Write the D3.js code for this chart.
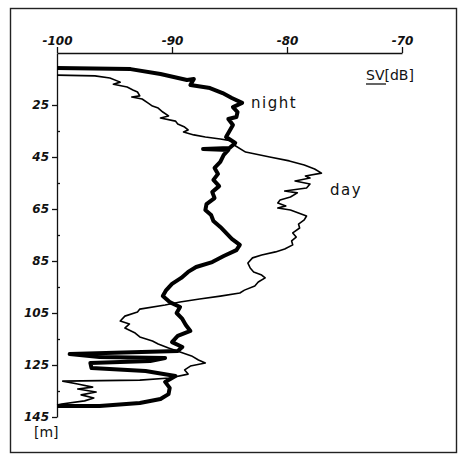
<!DOCTYPE html>
<html>
<head>
<meta charset="utf-8">
<script src="https://cdn.jsdelivr.net/npm/d3@7"></script>
<style>
  body { margin: 0; background: #fff; }
  svg { display: block; }
  .tick text { font-family: "DejaVu Sans", sans-serif; font-size: 12px; font-weight: bold; font-style: italic; fill: #111; }
  .lbl { font-family: "DejaVu Sans", sans-serif; fill: #111; }
</style>
</head>
<body>
<svg id="graph"></svg>
<script>
// SV (dB) over depth (m)
var xTicks = [-100, -90, -80, -70];
var yTicks = [25, 45, 65, 85, 105, 125, 145];
var yMinor = [35, 55, 75, 95, 115, 135];

var nightDepth = [10.8, 11.2, 13.1, 15.4, 15.0, 17.3, 18.5, 20.4, 22.3, 24.2, 25.8, 27.7, 29.6, 30.4, 32.7, 35.0, 37.3, 39.6, 41.5, 41.9, 42.3, 44.2, 46.9, 49.2, 51.5, 53.8, 56.2, 58.5, 60.8, 63.1, 65.4, 67.3, 69.6, 71.9, 74.2, 76.5, 78.8, 80.8, 83.1, 85.4, 87.3, 89.2, 91.5, 93.8, 96.2, 98.5, 100.8, 102.7, 105.0, 107.3, 109.6, 111.9, 113.8, 116.2, 118.1, 119.6, 120.8, 121.9, 122.3, 123.5, 124.2, 126.2, 127.3, 129.2, 131.5, 133.8, 136.2, 138.1, 139.6, 140.8, 140.8];
var nightSV = [-100, -93.6, -91.0, -88.7, -88.1, -88.4, -86.7, -85.6, -84.8, -83.9, -84.7, -84.3, -84.4, -85.1, -84.7, -85.0, -85.3, -84.5, -85.0, -87.3, -85.1, -85.5, -85.8, -86.3, -86.0, -86.4, -85.9, -86.5, -86.3, -87.0, -87.1, -86.6, -86.4, -85.8, -85.3, -84.8, -84.1, -84.4, -85.5, -86.5, -87.9, -88.6, -89.2, -90.0, -90.5, -90.8, -90.2, -89.3, -89.6, -89.1, -88.8, -88.4, -89.5, -90.0, -89.1, -89.5, -98.9, -96.3, -90.6, -91.9, -97.1, -97.0, -92.3, -89.7, -90.6, -90.2, -90.3, -91.0, -92.8, -96.3, -100];

var dayDepth = [13.5, 13.8, 14.6, 16.2, 17.0, 18.1, 19.2, 20.0, 21.5, 21.9, 22.7, 24.2, 25.4, 26.2, 27.7, 29.2, 30.0, 31.2, 32.3, 33.5, 34.6, 35.4, 36.5, 37.3, 38.1, 38.8, 40.4, 43.1, 45.0, 46.5, 48.1, 49.6, 51.2, 52.3, 53.1, 54.2, 55.4, 56.9, 58.1, 58.8, 60.4, 61.5, 62.7, 63.8, 64.6, 65.4, 66.5, 67.7, 69.2, 70.8, 72.3, 74.2, 75.8, 77.3, 78.8, 80.4, 81.5, 82.7, 83.8, 85.8, 87.7, 89.2, 90.4, 91.5, 93.1, 94.6, 96.2, 97.3, 98.5, 99.6, 100.8, 101.9, 103.5, 104.6, 106.2, 108.1, 109.2, 110.8, 112.7, 114.2, 115.8, 116.9, 118.5, 120.0, 121.5, 123.1, 124.2, 125.4, 126.9, 128.5, 130.0, 130.8, 131.2, 132.3, 133.5, 134.2, 135.4, 136.5, 137.7, 138.8, 140.0, 140.4];
var daySV = [-100, -96.7, -95.4, -94.5, -95.1, -93.9, -93.4, -93.0, -92.8, -93.5, -92.6, -92.1, -91.7, -91.2, -90.8, -90.3, -91.0, -89.7, -89.5, -88.9, -88.6, -89.0, -88.1, -87.1, -85.8, -84.8, -84.6, -83.6, -81.5, -79.8, -78.5, -77.6, -77.0, -78.4, -78.0, -79.3, -78.0, -78.3, -80.2, -79.1, -79.7, -80.6, -80.8, -80.1, -80.8, -79.7, -79.0, -78.3, -78.5, -79.0, -78.9, -79.5, -79.2, -79.6, -79.5, -80.2, -81.0, -82.2, -83.0, -83.4, -83.2, -82.9, -82.2, -81.9, -82.5, -82.8, -83.7, -84.1, -85.8, -87.6, -89.3, -90.6, -92.8, -93.0, -94.1, -94.5, -93.7, -94.1, -93.2, -92.8, -91.7, -91.2, -90.3, -89.3, -88.3, -87.7, -87.1, -88.4, -88.9, -88.6, -90.2, -92.8, -99.5, -98.2, -96.9, -98.2, -96.6, -97.9, -96.8, -97.6, -99.6, -100];

var width = 461, height = 456;
var svg = d3.select("#graph").attr("width", width).attr("height", height);

// frame
svg.append("rect")
    .attr("x", 10.5).attr("y", 8.5)
    .attr("width", 446).attr("height", 444)
    .attr("fill", "none").attr("stroke", "#222").attr("stroke-width", 1.4);

var x = d3.scaleLinear().domain([-100, -70]).range([57, 402]);
var y = d3.scaleLinear().domain([5, 145]).range([53, 417]);

var gx = svg.append("g").attr("transform", "translate(0,53)")
    .call(d3.axisTop(x).tickValues(xTicks).tickSize(6).tickSizeOuter(0).tickPadding(0).tickFormat(d => String(d)));
var gy = svg.append("g").attr("transform", "translate(57,0)")
    .call(d3.axisLeft(y).tickValues(yTicks).tickSize(5).tickSizeOuter(0).tickPadding(3));
svg.append("g").attr("transform", "translate(57,0)")
    .call(d3.axisRight(y).tickValues(yMinor).tickSize(3).tickSizeOuter(0).tickFormat(""))
    .select(".domain").remove();
svg.selectAll(".domain, .tick line").attr("stroke", "#111").attr("stroke-width", 1.3);
gx.selectAll(".tick text").attr("dy", "-0.2em");

var line = d3.line()
    .x(d => x(d[1]))
    .y(d => y(d[0]));

svg.append("path")
    .datum(d3.zip(dayDepth, daySV))
    .attr("d", line)
    .attr("fill", "none").attr("stroke", "#000").attr("stroke-width", 1.6)
    .attr("stroke-linejoin", "round");

svg.append("path")
    .datum(d3.zip(nightDepth, nightSV))
    .attr("d", line)
    .attr("fill", "none").attr("stroke", "#000").attr("stroke-width", 4)
    .attr("stroke-linejoin", "round");

// labels
svg.append("text").attr("class", "lbl").attr("x", 251).attr("y", 108)
    .attr("font-size", 15).attr("letter-spacing", 1.5).text("night");
svg.append("text").attr("class", "lbl").attr("x", 330).attr("y", 195)
    .attr("font-size", 15).attr("letter-spacing", 1.5).text("day");
svg.append("text").attr("class", "lbl").attr("x", 366).attr("y", 80)
    .attr("font-size", 14).text("SV[dB]");
svg.append("line").attr("x1", 366).attr("x2", 386).attr("y1", 84).attr("y2", 84)
    .attr("stroke", "#111").attr("stroke-width", 1.3);
svg.append("text").attr("class", "lbl").attr("x", 34).attr("y", 437)
    .attr("font-size", 14).text("[m]");
</script>
</body>
</html>
